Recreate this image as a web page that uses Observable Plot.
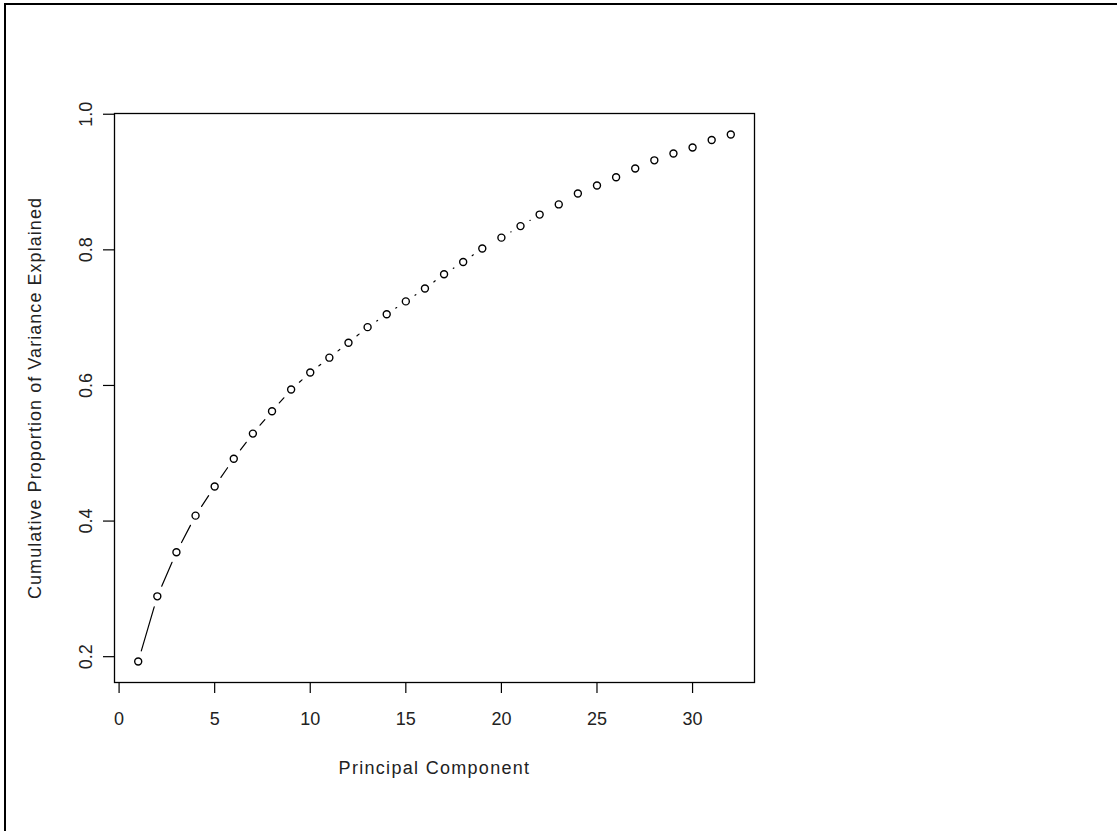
<!DOCTYPE html>
<html>
<head>
<meta charset="utf-8">
<script src="https://cdn.jsdelivr.net/npm/d3@7"></script>
<script src="https://cdn.jsdelivr.net/npm/@observablehq/plot@0.6"></script>
<style>
  html, body { margin: 0; padding: 0; background: #fff; }
  #wrap { position: relative; width: 1117px; height: 831px; overflow: hidden; }
  #border { position: absolute; left: 4px; top: 3px; width: 1200px; height: 900px;
            border-top: 2px solid #000; border-left: 2.5px solid #000; box-sizing: border-box; pointer-events: none; }
  #chart { position: absolute; left: 0; top: 0; }
  .xttl text { letter-spacing: 1.3px; }
  .yttl text { letter-spacing: 1.05px; }
</style>
</head>
<body>
<div id="wrap"><div id="chart"></div><div id="border"></div></div>
<script>
// Data
const components = [1,2,3,4,5,6,7,8,9,10,11,12,13,14,15,16,17,18,19,20,21,22,23,24,25,26,27,28,29,30,31,32];
const cumulativeVariance = [0.193,0.289,0.354,0.408,0.451,0.492,0.529,0.562,0.594,0.619,0.641,0.663,0.686,0.705,0.724,0.743,0.764,0.782,0.802,0.818,0.835,0.852,0.867,0.883,0.895,0.907,0.920,0.932,0.942,0.951,0.962,0.970];
const xTicks = [0,5,10,15,20,25,30];
const yTicks = [0.2,0.4,0.6,0.8,1.0];
const yTickLabels = ["0.2","0.4","0.6","0.8","1.0"];
const xTitle = "Principal Component";
const yTitle = "Cumulative Proportion of Variance Explained";

const pts = components.map((c, i) => ({pc: c, v: cumulativeVariance[i]}));
const segs = pts.slice(1).map((d, i) => ({x1: pts[i].pc, y1: pts[i].v, x2: d.pc, y2: d.v}));

// R-style 4% axis extension
const xr = d3.extent(components), yr = d3.extent(cumulativeVariance);
const xpad = (xr[1] - xr[0]) * 0.04, ypad = (yr[1] - yr[0]) * 0.04;

const FONT = "'Liberation Sans', Arial, sans-serif";
const FS = 18;
const TXT = "#222";

const chart = Plot.plot({
  width: 1117,
  height: 831,
  marginLeft: 114,
  marginRight: 363,
  marginTop: 113,
  marginBottom: 149,
  style: {fontFamily: FONT, fontSize: FS + "px", background: "transparent", overflow: "visible"},
  x: {domain: [xr[0] - xpad, xr[1] + xpad]},
  y: {domain: [yr[0] - ypad, yr[1] + ypad]},
  marks: [
    Plot.frame({stroke: "#000", strokeWidth: 1.3}),
    Plot.axisX({ticks: xTicks, tickSize: 11, tickPadding: 19, tickFormat: d => String(d), fontSize: FS, fill: TXT, stroke: "#000", strokeWidth: 1.2, label: null}),
    Plot.axisY({ticks: yTicks, tickSize: 11, tickFormat: () => "", stroke: "#000", strokeWidth: 1.2, label: null}),
    Plot.text(yTicks, {y: d => d, text: (d, i) => yTickLabels[i], frameAnchor: "left", dx: -28, rotate: -90, textAnchor: "middle", lineAnchor: "middle", fontSize: FS, fill: TXT}),
    Plot.text([xTitle], {text: d => d, frameAnchor: "bottom", dy: 86, textAnchor: "middle", lineAnchor: "middle", fontSize: FS, fill: TXT, className: "xttl"}),
    Plot.text([yTitle], {text: d => d, frameAnchor: "left", dx: -79, rotate: -90, textAnchor: "middle", lineAnchor: "middle", fontSize: FS, fill: TXT, className: "yttl"}),
    Plot.arrow(segs, {x1: "x1", y1: "y1", x2: "x2", y2: "y2", inset: 11, headLength: 0, bend: 0, stroke: "#000", strokeWidth: 1.2}),
    Plot.dot(pts, {x: "pc", y: "v", r: 3.5, stroke: "#000", strokeWidth: 1.4, fill: "none"})
  ]
});
document.getElementById("chart").appendChild(chart);
</script>
</body>
</html>
